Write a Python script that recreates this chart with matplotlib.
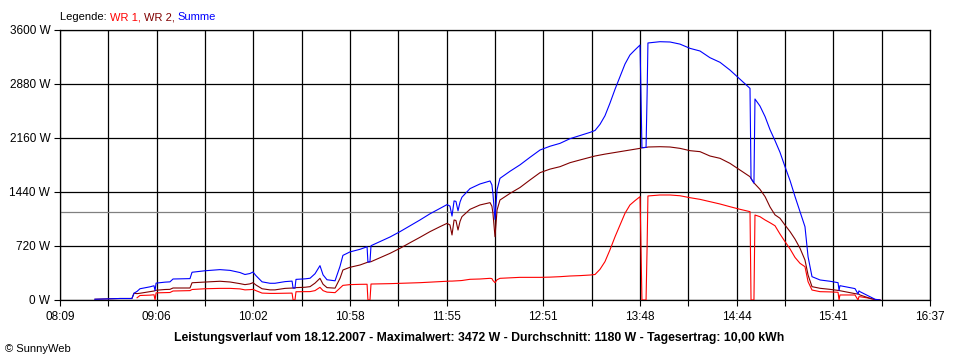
import numpy as np
import matplotlib
matplotlib.use('Agg')
import matplotlib.pyplot as plt

# time of day in minutes after midnight
t = [509.4, 524.0, 531.0, 532.2, 534.0, 535.7, 541.6, 543.9, 544.5, 545.1,
     550.3, 553.2, 555.0, 564.9, 566.1, 573.7, 582.4, 588.3, 594.1, 597.0,
     599.9, 601.7, 603.4, 607.0, 611.6, 614.5, 620.4, 624.5, 625.1, 626.2,
     626.8, 632.1, 635.0, 637.9, 640.8, 642.6, 644.9, 649.6, 652.5, 654.2,
     658.3, 664.2, 668.3, 668.8, 670.0, 670.6, 675.9, 681.7, 687.5, 693.4,
     699.2, 705.0, 710.9, 715.0, 716.7, 717.9, 719.1, 720.2, 721.4, 722.6,
     723.7, 728.4, 734.2, 740.1, 741.2, 741.8, 743.0, 744.2, 745.9, 751.8,
     757.6, 763.4, 769.3, 775.1, 781.0, 786.8, 792.6, 798.5, 801.4, 804.3,
     807.2, 810.1, 813.1, 816.0, 818.9, 821.8, 824.7, 827.7, 828.8, 831.2,
     831.8, 832.3, 839.3, 845.2, 851.0, 856.9, 862.7, 868.5, 874.4, 880.2,
     886.1, 891.9, 892.5, 894.2, 894.8, 897.7, 900.7, 903.6, 906.5, 909.4,
     912.3, 915.3, 918.2, 921.1, 924.0, 925.8, 928.1, 932.8, 938.6, 943.3,
     943.9, 944.4, 950.3, 953.2, 955.0, 955.5, 956.1, 962.0, 964.9, 967.8]

nan = np.nan
wr1 = [nan, nan, nan, nan, 30, 60, 65, 70, 0, 95,
       98, 100, 120, 125, 140, 150, 155, 155, 148, 135,
       138, 142, 125, 92, 88, 88, 90, 92, 0, 0,
       110, 112, 112, 125, 169, 125, 105, 98, 160, 195,
       205, 209, 210, 0, 0, 213, 215, 218, 222, 226,
       231, 238, 244, 250, 252, 252, 254, 255, 256, 258,
       260, 276, 280, 289, 285, 260, 231, 270, 289, 295,
       302, 302, 302, 305, 311, 320, 325, 333, 340, 409,
       511, 667, 844, 1000, 1156, 1267, 1324, 1378, 0, 0,
       689, 1387, 1400, 1400, 1390, 1364, 1342, 1311, 1280, 1244,
       1209, 1178, 0, 0, 1133, 1111, 1067, 1030, 990, 880,
       780, 680, 567, 489, 444, 244, 133, 111, 108, 103,
       0, 67, 67, 67, 0, 44, 44, 22, 5, 0]

wr2 = [10, 20, 20, 90, 85, 90, 111, 120, 125, 130,
       140, 142, 160, 160, 230, 240, 250, 240, 218, 205,
       215, 231, 200, 150, 135, 135, 155, 160, 160, 160,
       165, 170, 178, 225, 289, 210, 165, 158, 289, 400,
       436, 467, 500, 505, 510, 511, 564, 622, 689, 764,
       836, 911, 978, 1022, 1000, 867, 1067, 1060, 933, 1050,
       1111, 1209, 1267, 1298, 1250, 1156, 844, 1200, 1333, 1422,
       1500, 1600, 1698, 1745, 1778, 1831, 1867, 1902, 1920, 1933,
       1945, 1956, 1967, 1978, 1990, 2000, 2010, 2022, 2030, 2035,
       2036, 2040, 2044, 2040, 2022, 1991, 1978, 1920, 1889, 1822,
       1733, 1644, 1620, 1560, 1547, 1476, 1378, 1240, 1135, 1090,
       1000, 911, 811, 690, 533, 333, 178, 156, 142, 128,
       128, 124, 98, 85, 80, 78, 67, 22, 5, 0]

x_labels = ["08:09", "09:06", "10:02", "10:58", "11:55",
            "12:51", "13:48", "14:44", "15:41", "16:37"]
y_ticks = [0, 720, 1440, 2160, 2880, 3600]
average = 1180

wr1 = np.array(wr1, dtype=float)
wr2 = np.array(wr2, dtype=float)
summe = np.nan_to_num(wr1) + wr2

plt.rcParams['font.family'] = ['Liberation Sans', 'DejaVu Sans']
fig = plt.figure(figsize=(9.6, 3.6), dpi=100)
ax = fig.add_axes([60 / 960, 60 / 360, 870 / 960, 270 / 360])

t0, t1 = 489, 997
ax.set_xlim(t0, t1)
ax.set_ylim(0, 3600)

xt = np.linspace(t0, t1, 19)
ax.set_xticks(xt)
ax.set_xticklabels([x_labels[i // 2] if i % 2 == 0 else '' for i in range(19)])
ax.set_yticks(y_ticks)
ax.set_yticklabels(['%d W' % v for v in y_ticks])
ax.tick_params(length=4, width=0.8, color='black', labelsize=8.5, pad=3)
ax.tick_params(axis='x', pad=4)

for v in xt:
    ax.axvline(v, color='black', lw=0.9, zorder=1)
for v in y_ticks:
    ax.axhline(v, color='black', lw=0.9, zorder=1)
ax.axhline(average, color='#808080', lw=0.9, zorder=1)
for s in ax.spines.values():
    s.set_linewidth(0.9)

ax.plot(t, wr1, color='#ff0000', lw=0.8, zorder=3)
ax.plot(t, wr2, color='#800000', lw=0.8, zorder=3)
ax.plot(t, summe, color='#0000ff', lw=0.8, zorder=3)

# legend line above the plot
lg = fig.text(60 / 960, 1 - 17 / 360, 'Legende: ', fontsize=8, va='center')
a1 = ax.annotate('WR 1, ', xy=(1, 0), xycoords=lg, va='bottom', fontsize=8, color='#ff0000')
a2 = ax.annotate('WR 2, ', xy=(1, 0), xycoords=a1, va='bottom', fontsize=8, color='#800000')
ax.annotate('Summe', xy=(1, 0), xycoords=a2, va='bottom', fontsize=8, color='#0000ff')

fig.text(479 / 960, 1 - 338 / 360,
         'Leistungsverlauf vom 18.12.2007 - Maximalwert: 3472 W - '
         'Durchschnitt: 1180 W - Tagesertrag: 10,00 kWh',
         ha='center', va='center', fontsize=8.8, fontweight='bold')
fig.text(5 / 960, 1 - 349 / 360, '\u00a9 SunnyWeb', fontsize=8, va='center')

fig.savefig('out.png', dpi=100)
